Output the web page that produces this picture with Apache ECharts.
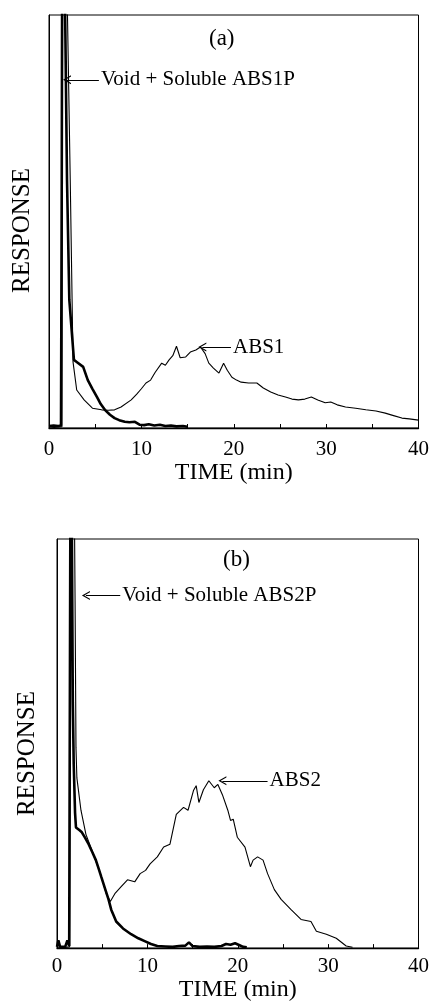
<!DOCTYPE html>
<html><head><meta charset="utf-8">
<script src="https://cdn.jsdelivr.net/npm/echarts@6/dist/echarts.min.js"></script>
<style>html,body{margin:0;padding:0;background:#fff}#c{width:432px;height:1003px}</style>
</head><body><div id="c"></div>
<script>
// tick labels (minutes)
const xTicks = [0, 10, 20, 30, 40];
const xTickLabels = ['0', '10', '20', '30', '40'];

// Panel (a): void + soluble ABS1P (thick trace)
const aSolTime = [0, 0.5, 1.0, 1.3, 1.38, 1.45, 1.75, 1.95, 2.2, 2.7, 3.0, 3.7, 4.2, 4.7, 5.2, 5.6, 6.05, 6.6, 7.1, 7.6, 8.2, 8.7, 9.3, 9.8, 10.3, 10.8, 11.4, 12.0, 12.6, 13.2, 13.8, 14.5, 15.0];
const aSolResp = [0.5, 0.6, 0.5, 0.6, 60, 140, 100, 60, 31, 16.5, 16, 14.8, 11.6, 9.5, 7.5, 5.8, 4.4, 3.2, 2.4, 1.9, 1.5, 1.4, 1.5, 0.8, 0.7, 0.9, 0.6, 0.8, 0.5, 0.6, 0.4, 0.5, 0.3];

// Panel (a): ABS1 (thin trace)
const aAbsTime = [0, 1.4, 1.5, 2.0, 2.3, 2.5, 2.6, 3.0, 3.8, 4.7, 5.7, 6.4, 7.1, 7.8, 8.9, 9.5, 10.0, 10.5, 11.0, 11.5, 12.2, 12.6, 13.0, 13.4, 13.8, 14.2, 14.8, 15.3, 15.9, 16.4, 16.9, 17.3, 17.8, 18.4, 18.9, 19.3, 19.8, 20.3, 20.8, 21.6, 22.5, 23.2, 24.0, 24.8, 25.6, 26.3, 27.0, 27.7, 28.4, 29.1, 29.9, 30.5, 31.2, 32.1, 33.2, 34.3, 35.4, 36.4, 37.3, 38.2, 39.0, 40.0];
const aAbsResp = [0, 0.3, 140, 100, 60, 31, 16, 9.2, 6.8, 4.8, 4.4, 4.3, 4.4, 5.1, 6.8, 8.2, 9.5, 10.9, 11.6, 13.5, 15.7, 15.2, 16.5, 17.5, 19.8, 17.0, 17.2, 18.4, 18.9, 19.6, 18.0, 15.7, 14.5, 13.3, 15.7, 14.0, 12.3, 11.6, 11.1, 10.9, 10.9, 9.7, 8.7, 8.0, 7.5, 7.0, 6.8, 7.0, 7.5, 6.8, 6.1, 6.3, 5.6, 5.1, 4.8, 4.4, 4.1, 3.6, 3.0, 2.4, 2.2, 1.9];

// Panel (b): void + soluble ABS2P (thick trace)
const bSolTime = [0, 0.15, 0.35, 0.9, 1.15, 1.35, 1.45, 1.52, 1.65, 1.75, 1.85, 2.0, 2.1, 2.5, 2.75, 3.1, 3.5, 3.9, 4.3, 4.6, 4.9, 5.35, 5.7, 6.0, 6.55, 7.3, 8.2, 9.0, 9.7, 10.4, 11.1, 12.0, 12.8, 13.5, 14.2, 14.6, 15.0, 15.8, 16.6, 17.4, 18.2, 18.7, 19.2, 19.7, 20.2, 20.6, 21.0];
const bSolResp = [0.3, 1.9, 0.3, 0.3, 1.9, 0.5, 0.8, 140, 100, 60, 45, 33, 29.5, 28.8, 28.3, 27.0, 25.4, 23.5, 21.5, 19.5, 17.4, 14.3, 11.9, 9.4, 6.5, 4.8, 3.4, 2.4, 1.7, 1.0, 0.5, 0.4, 0.3, 0.5, 0.6, 1.4, 0.5, 0.3, 0.4, 0.3, 0.5, 1.0, 0.8, 1.2, 0.7, 0.3, 0.2];

// Panel (b): ABS2 (thin trace)
const bAbsTime = [0, 1.4, 1.55, 1.95, 2.0, 2.1, 2.2, 2.65, 3.2, 3.85, 4.8, 5.45, 5.9, 6.4, 7.1, 7.8, 8.6, 9.2, 9.8, 10.3, 11.1, 11.8, 12.5, 13.2, 14.0, 14.5, 15.1, 15.4, 15.7, 16.2, 16.8, 17.0, 17.4, 17.8, 18.3, 18.9, 19.2, 19.5, 19.95, 20.8, 21.4, 21.7, 22.2, 22.8, 23.3, 24.05, 24.8, 25.9, 27.0, 28.1, 28.7, 29.8, 30.9, 32.0, 32.7];
const bAbsResp = [0, 0.3, 140, 100, 85, 49, 41.6, 33.7, 27.8, 24.0, 18.2, 13.3, 11.4, 13.3, 15.0, 16.7, 16.2, 18.2, 19.0, 20.6, 22.3, 24.7, 25.4, 32.7, 34.4, 33.7, 38.5, 39.7, 35.6, 38.7, 40.9, 41.2, 39.2, 40.0, 37.5, 33.7, 31.2, 31.5, 27.1, 24.7, 19.9, 21.5, 22.3, 21.5, 18.2, 14.3, 11.9, 9.4, 7.0, 6.5, 4.1, 3.4, 2.4, 0.5, 0.2];

const zip = (t, v) => t.map((x, i) => [x, v[i]]);
const SERIF = 'Liberation Serif';
const arrowSym = 'path://M5,0 L10,9 L8.6,9 L5,2.6 L1.4,9 L0,9 Z';

function xAxisFor(grid, labelMargin, nameGap) {
  return {
    gridIndex: grid, type: 'value', min: 0, max: 40, interval: 10,
    name: 'TIME (min)', nameLocation: 'middle', nameGap: nameGap,
    nameTextStyle: { fontFamily: SERIF, fontSize: 24, color: '#000' },
    axisLine: { show: true, lineStyle: { color: '#000', width: 1.3 } },
    axisTick: { show: true, inside: true, length: 4, lineStyle: { color: '#000' } },
    minorTick: { show: true, splitNumber: 2, length: 4, lineStyle: { color: '#000' } },
    splitLine: { show: false },
    axisLabel: { fontFamily: SERIF, fontSize: 21, color: '#000', margin: labelMargin,
      formatter: v => xTickLabels[xTicks.indexOf(v)] }
  };
}
function yAxisFor(grid, nameGap, shift) {
  return {
    gridIndex: grid, type: 'value', min: 0, max: 100,
    name: 'RESPONSE', nameLocation: 'middle', nameGap: nameGap,
    nameTextStyle: { fontFamily: SERIF, fontSize: 25, color: '#000', padding: [0, shift, 0, 0] },
    axisLine: { show: true, lineStyle: { color: '#000', width: 1 } },
    axisTick: { show: false }, axisLabel: { show: false }, splitLine: { show: false }
  };
}
function annot(name, from, to) {
  return {
    silent: true, animation: false,
    symbol: [arrowSym, 'none'], symbolSize: [9, 8],
    lineStyle: { color: '#000', width: 1, type: 'solid' },
    label: { show: true, position: 'end', distance: 2, formatter: '{b}',
      fontFamily: SERIF, fontSize: 21, color: '#000' },
    emphasis: { disabled: true },
    data: [[{ name: name, coord: from }, { coord: to }]]
  };
}
function line(xi, data, width, ml) {
  const s = { type: 'line', xAxisIndex: xi, yAxisIndex: xi, data: data, showSymbol: false, symbol: 'none',
    lineStyle: { color: '#000', width: width }, itemStyle: { color: '#000' }, clip: true, animation: false, z: width > 2 ? 3 : 2 };
  if (ml) s.markLine = ml;
  return s;
}

const chart = echarts.init(document.getElementById('c'), null, { renderer: 'canvas' });
chart.setOption({
  backgroundColor: '#fff',
  animation: false,
  title: [
    { text: '(a)', left: 204, top: 22, textStyle: { fontFamily: SERIF, fontSize: 23, fontWeight: 'normal', color: '#000' } },
    { text: '(b)', left: 218, top: 543, textStyle: { fontFamily: SERIF, fontSize: 23, fontWeight: 'normal', color: '#000' } }
  ],
  grid: [
    { left: 49, top: 15, width: 371, height: 413, show: true, borderColor: '#000', borderWidth: 1, backgroundColor: 'transparent' },
    { left: 57, top: 539, width: 370, height: 413, show: true, borderColor: '#000', borderWidth: 1, backgroundColor: 'transparent' }
  ],
  xAxis: [xAxisFor(0, 11, 30), xAxisFor(1, 8, 24)],
  yAxis: [yAxisFor(0, 14, 18), yAxisFor(1, 17, 20)],
  series: [
    line(0, zip(aSolTime, aSolResp), 2.6, annot('Void + Soluble ABS1P', [1.95, 84.3], [5.4, 84.3])),
    line(0, zip(aAbsTime, aAbsResp), 1.1, annot('ABS1', [16.6, 19.6], [19.7, 19.6])),
    line(1, zip(bSolTime, bSolResp), 2.6, annot('Void + Soluble ABS2P', [3.2, 86.2], [7.0, 86.2])),
    line(1, zip(bAbsTime, bAbsResp), 1.1, annot('ABS2', [18.3, 40.9], [23.3, 40.9]))
  ]
});
</script>
</body></html>
